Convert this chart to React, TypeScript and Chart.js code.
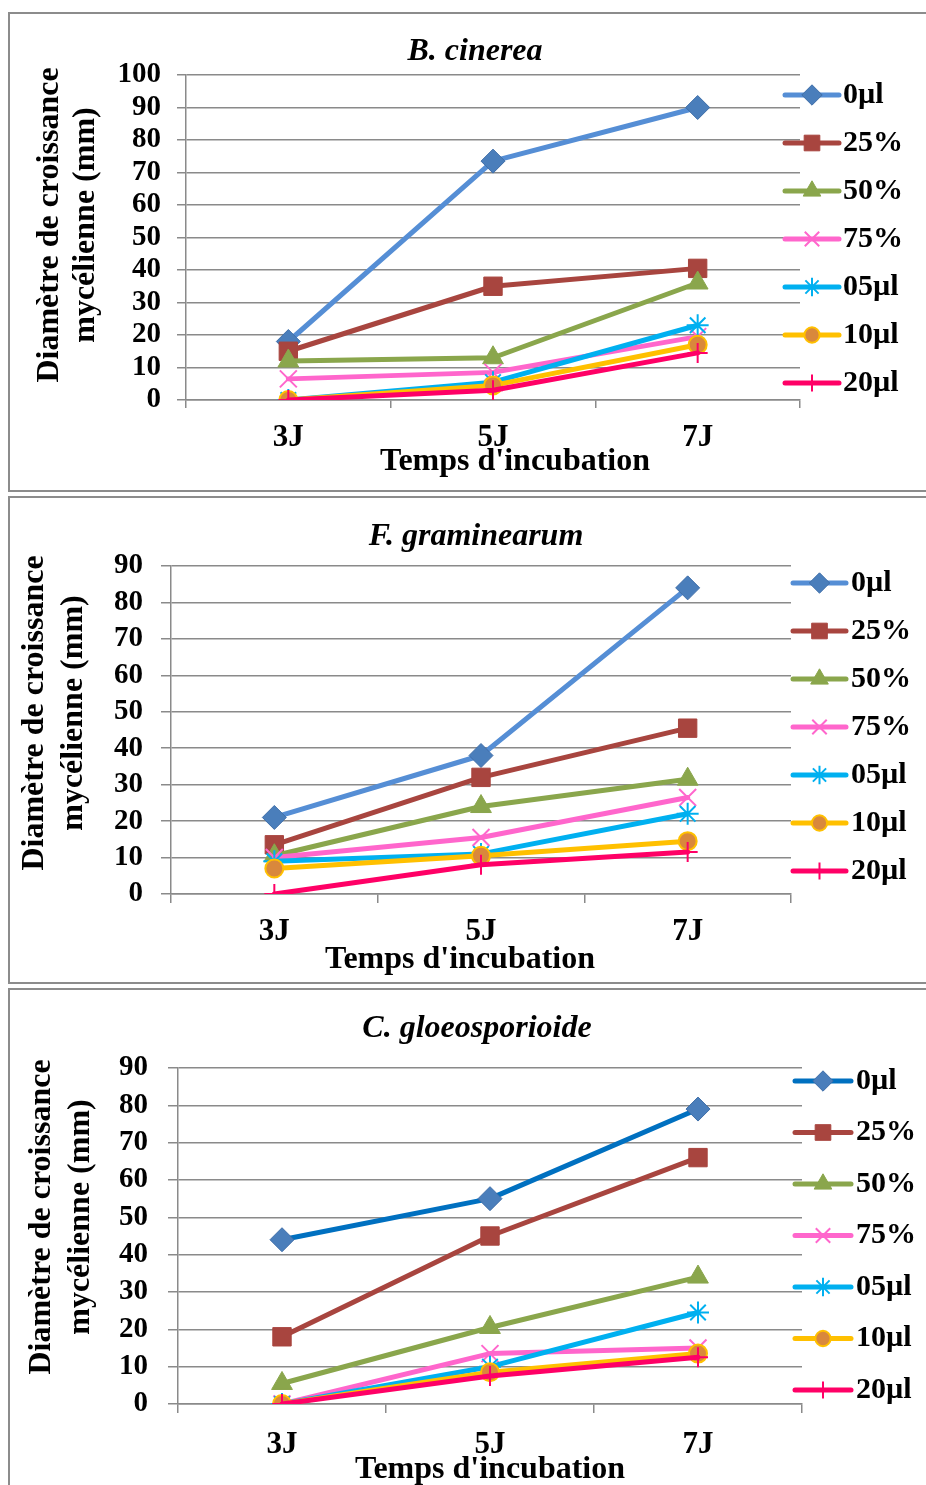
import React, { useEffect, useRef } from 'react';
import { Chart, registerables } from 'chart.js';
import { drawPoint } from 'chart.js/helpers';

Chart.register(...registerables);

// ---------- data ----------
const categories = ['3J', '5J', '7J'];
const seriesNames = ['0µl', '25%', '50%', '75%', '05µl', '10µl', '20µl'];

// B. cinerea
const bc_0ul = [18, 73.5, 90];
const bc_25 = [15, 35, 40.5];
const bc_50 = [12, 13, 36];
const bc_75 = [6.5, 8.5, 19.5];
const bc_05ul = [0, 5.5, 23];
const bc_10ul = [0, 4.5, 17];
const bc_20ul = [0, 3, 14.5];

// F. graminearum
const fg_0ul = [21, 38, 84];
const fg_25 = [13.5, 32, 45.5];
const fg_50 = [10.5, 24, 31.5];
const fg_75 = [10, 15.5, 26.5];
const fg_05ul = [9, 11, 22];
const fg_10ul = [7, 10.5, 14.5];
const fg_20ul = [0, 8, 11.5];

// C. gloeosporioide
const cg_0ul = [44, 55, 79];
const cg_25 = [18, 45, 66];
const cg_50 = [5.5, 20.5, 34];
const cg_75 = [0, 13.5, 15];
const cg_05ul = [0, 10, 24.5];
const cg_10ul = [0, 8.5, 13.5];
const cg_20ul = [0, 7.5, 12.5];

const yTitleLines = ['Diamètre de croissance', 'mycélienne (mm)'];
const xTitle = "Temps d'incubation";

// ---------- styles ----------
const FONT = '"Liberation Serif", "Times New Roman", serif';
const GRID = '#8a8a8a';

const seriesStyles = [
  { line: '#558ED5', fill: '#4A7EBB', border: '#3F6EA8', style: 'rectRot', r: 12, bw: 1 },
  { line: '#A8453F', fill: '#A8453F', border: '#A8453F', style: 'rect', r: 13, bw: 1 },
  { line: '#8AA64C', fill: '#8AA64C', border: '#8AA64C', style: 'triangle', r: 12, bw: 1 },
  { line: '#FF66CC', fill: '#FF66CC', border: '#FF66CC', style: 'crossRot', r: 12, bw: 2 },
  { line: '#00B0F0', fill: '#00B0F0', border: '#00B0F0', style: 'star', r: 11, bw: 2 },
  { line: '#FFC000', fill: '#D9883C', border: '#FFC000', style: 'circle', r: 9, bw: 2 },
  { line: '#FF0066', fill: '#FF0066', border: '#FF0066', style: 'cross', r: 10, bw: 2 },
];

const panels = [
  {
    title: 'B. cinerea',
    series: [bc_0ul, bc_25, bc_50, bc_75, bc_05ul, bc_10ul, bc_20ul],
    firstLine: '#558ED5',
    top: 12, height: 480,
    plot: { left: 186, right: 800, top: 63, bottom: 388 },
    yMax: 100, yTickPad: 16, yTickLen: 9, xTickPad: 11, xTickLen: 8,
    titleX: 475, titleY: 40,
    yTitleX: [58, 94], yTitleY: 213,
    xTitleX: 515, xTitleY: 458,
    legX1: 785, legX2: 839, legText: 843, legTop: 83, legStep: 48,
  },
  {
    title: 'F. graminearum',
    series: [fg_0ul, fg_25, fg_50, fg_75, fg_05ul, fg_10ul, fg_20ul],
    firstLine: '#558ED5',
    top: 496, height: 488,
    plot: { left: 171, right: 791, top: 70, bottom: 398 },
    yMax: 90, yTickPad: 18, yTickLen: 10, xTickPad: 10, xTickLen: 9,
    titleX: 476, titleY: 41,
    yTitleX: [43, 82], yTitleY: 217,
    xTitleX: 460, xTitleY: 472,
    legX1: 793, legX2: 846, legText: 851, legTop: 87, legStep: 48,
  },
  {
    title: 'C. gloeosporioide',
    series: [cg_0ul, cg_25, cg_50, cg_75, cg_05ul, cg_10ul, cg_20ul],
    firstLine: '#0070C0',
    top: 988, height: 510,
    plot: { left: 178, right: 802, top: 80, bottom: 416 },
    yMax: 90, yTickPad: 20, yTickLen: 10, xTickPad: 13, xTickLen: 9,
    titleX: 477, titleY: 41,
    yTitleX: [50, 89], yTitleY: 229,
    xTitleX: 490, xTitleY: 490,
    legX1: 795, legX2: 851, legText: 856, legTop: 93, legStep: 51.5,
  },
];

const CANVAS_W = 926;

const decorPlugin = {
  id: 'decor',
  afterDraw(chart: any, _args: any, opts: any) {
    const ctx = chart.ctx;
    ctx.save();
    ctx.fillStyle = '#000';
    // chart title
    ctx.font = `italic bold 32px ${FONT}`;
    ctx.textAlign = 'center';
    ctx.textBaseline = 'middle';
    ctx.fillText(opts.title, opts.titleX, opts.titleY);
    // y axis title
    ctx.font = `bold 32px ${FONT}`;
    ctx.textBaseline = 'alphabetic';
    yTitleLines.forEach((line: string, i: number) => {
      ctx.save();
      ctx.translate(opts.yTitleX[i], opts.yTitleY);
      ctx.rotate(-Math.PI / 2);
      ctx.fillText(line, 0, 0);
      ctx.restore();
    });
    // x axis title
    ctx.fillText(xTitle, opts.xTitleX, opts.xTitleY);
    // legend
    chart.data.datasets.forEach((ds: any, i: number) => {
      const y = opts.legTop + i * opts.legStep;
      ctx.strokeStyle = ds.borderColor;
      ctx.lineWidth = 5;
      ctx.lineCap = 'round';
      ctx.beginPath();
      ctx.moveTo(opts.legX1, y);
      ctx.lineTo(opts.legX2, y);
      ctx.stroke();
      ctx.lineCap = 'butt';
      ctx.fillStyle = ds.pointBackgroundColor;
      ctx.strokeStyle = ds.pointBorderColor;
      ctx.lineWidth = ds.pointBorderWidth;
      drawPoint(
        ctx,
        { pointStyle: ds.pointStyle, rotation: 0, radius: ds.pointRadius * 0.85, borderWidth: ds.pointBorderWidth } as any,
        (opts.legX1 + opts.legX2) / 2,
        y
      );
      ctx.fillStyle = '#000';
      ctx.font = `bold 30px ${FONT}`;
      ctx.textAlign = 'left';
      ctx.textBaseline = 'middle';
      ctx.fillText(ds.label, opts.legText, y);
    });
    ctx.restore();
  },
};

function Panel({ cfg }: { cfg: any }) {
  const ref = useRef<HTMLCanvasElement>(null);
  useEffect(() => {
    if (!ref.current) return;
    const datasets = cfg.series.map((values: number[], i: number) => {
      const s = seriesStyles[i];
      const line = i === 0 ? cfg.firstLine : s.line;
      return {
        label: seriesNames[i],
        data: values,
        borderColor: line,
        backgroundColor: s.fill,
        borderWidth: 5,
        borderCapStyle: 'round',
        borderJoinStyle: 'round',
        pointStyle: s.style,
        pointRadius: s.r,
        pointBackgroundColor: s.fill,
        pointBorderColor: s.border,
        pointBorderWidth: s.bw,
        tension: 0,
        order: seriesNames.length - i,
      };
    });
    const chart = new Chart(ref.current, {
      type: 'line',
      data: { labels: categories, datasets },
      plugins: [decorPlugin],
      options: {
        animation: false,
        responsive: false,
        devicePixelRatio: 1,
        layout: {
          padding: { left: 0, top: cfg.plot.top, right: CANVAS_W - cfg.plot.right, bottom: 0 },
        },
        plugins: {
          legend: { display: false },
          title: { display: false },
          tooltip: { enabled: false },
          decor: cfg,
        } as any,
        scales: {
          x: {
            type: 'category',
            offset: true,
            afterFit: (scale: any) => {
              scale.height = cfg.height - cfg.plot.bottom;
            },
            grid: {
              offset: true,
              drawOnChartArea: false,
              drawTicks: true,
              tickLength: cfg.xTickLen,
              color: GRID,
              lineWidth: 1.5,
            },
            border: { display: true, color: GRID, width: 1.5 },
            ticks: {
              color: '#000',
              font: { family: FONT, size: 31, weight: 'bold' },
              padding: cfg.xTickPad,
              maxRotation: 0,
              autoSkip: false,
            },
          },
          y: {
            min: 0,
            max: cfg.yMax,
            afterFit: (scale: any) => {
              scale.width = cfg.plot.left;
            },
            grid: {
              color: GRID,
              lineWidth: 1.5,
              drawTicks: true,
              tickLength: cfg.yTickLen,
            },
            border: { display: true, color: GRID, width: 1.5 },
            ticks: {
              stepSize: 10,
              autoSkip: false,
              color: '#000',
              font: { family: FONT, size: 29, weight: 'bold' },
              padding: cfg.yTickPad,
            },
          },
        },
      } as any,
    });
    return () => chart.destroy();
  }, [cfg]);

  return (
    <>
      <div
        style={{
          position: 'absolute',
          left: 8,
          top: cfg.top,
          width: 940,
          height: cfg.height,
          border: '2px solid #8c8c8c',
          boxSizing: 'border-box',
        }}
      />
      <canvas
        ref={ref}
        width={CANVAS_W}
        height={cfg.height}
        style={{ position: 'absolute', left: 0, top: cfg.top, width: CANVAS_W, height: cfg.height }}
      />
    </>
  );
}

export default function App() {
  return (
    <div
      style={{
        position: 'absolute',
        left: 0,
        top: 0,
        width: 926,
        height: 1485,
        overflow: 'hidden',
        background: '#fff',
      }}
    >
      {panels.map((p, i) => (
        <Panel key={i} cfg={p} />
      ))}
    </div>
  );
}
